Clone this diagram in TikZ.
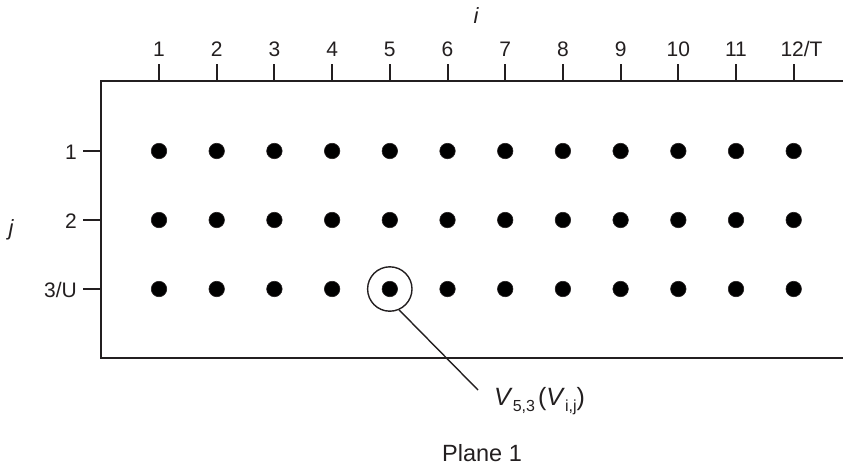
\documentclass[tikz,border=0pt]{standalone}
\usepackage{fontspec}
\setmainfont{Liberation Sans}
\definecolor{ink}{HTML}{231F20}
\begin{document}
\begin{tikzpicture}[x=1pt,y=-1pt,
  frame/.style={draw=ink,line width=2pt},
  tickline/.style={draw=ink,line width=2pt},
  axlab/.style={inner sep=0pt,text=ink,font=\fontsize{21}{25}\selectfont},
  dot/.style={circle,fill=black,draw=ink,line width=0.6pt,minimum size=15.5pt,inner sep=0pt},
  ring/.style={circle,draw=ink,line width=1.4pt,minimum size=44.4pt,inner sep=0pt},
  leader/.style={draw=ink,line width=1.4pt}]
\useasboundingbox (0,0) rectangle (843,467);
% frame
\draw[frame] (843,81) -- (101,81) -- (101,358) -- (843,358);
% top ticks and labels
\foreach \k in {1,...,11}{
  \pgfmathsetmacro{\xx}{159+(\k-1)*57.7}
  \draw[tickline] (\xx,64) -- (\xx,81);
  \node[axlab,anchor=base] (top\k) at (\xx,56) {\k};
}
\draw[tickline] (793.7,64) -- (793.7,81);
\node[axlab,anchor=base] (top12) at (801.5,56) {12/T};
\node[axlab,anchor=base,font=\fontsize{22}{26}\selectfont\itshape] (ilab) at (476,23) {i};
% left ticks and labels
\foreach \r/\yy in {1/151,2/220,3/289}{
  \draw[tickline] (83,\yy) -- (101,\yy);
}
\node[axlab,anchor=base east] (left1) at (77,159) {1};
\node[axlab,anchor=base east] (left2) at (77,228) {2};
\node[axlab,anchor=base east] (left3) at (77,297) {3/U};
\node[axlab,anchor=base,font=\fontsize{22}{26}\selectfont\itshape] (jlab) at (11,235.5) {j};
% dots
\foreach \r/\yy in {1/151,2/220,3/289}{
  \foreach \k in {1,...,12}{
    \pgfmathsetmacro{\xx}{159+(\k-1)*57.7}
    \node[dot] (d\k-\r) at (\xx,\yy) {};
  }
}
% highlighted vertex
\node[ring] (circ) at (389.8,289) {};
\coordinate (leadend) at (478,390);
\draw[leader] (circ.-66) -- (leadend);
\node[inner sep=0pt,anchor=base west,text=ink] (vlab) at (494,405)
  {\fontsize{25}{30}\selectfont\textit{V}\raisebox{-6pt}{\fontsize{16}{19}\selectfont 5,3}\hspace{3pt}(\textit{V}\raisebox{-6pt}{\fontsize{16}{19}\selectfont i,j})};
\node[inner sep=0pt,anchor=base,text=ink,font=\fontsize{23.5}{28}\selectfont] (plane) at (482,461) {Plane 1};
\end{tikzpicture}
\end{document}
